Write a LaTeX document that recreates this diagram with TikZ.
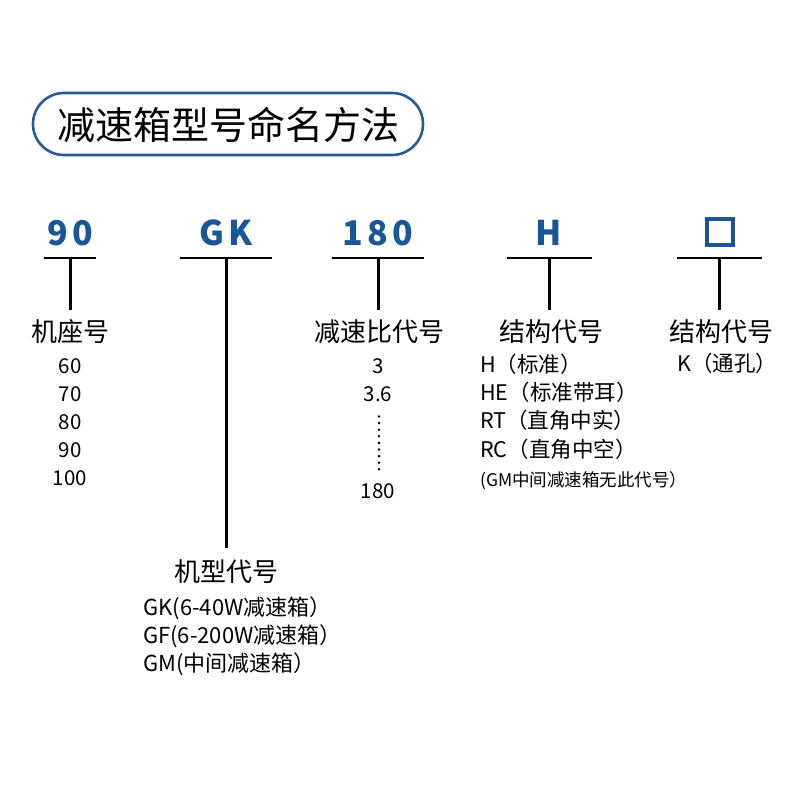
\documentclass[tikz,border=0pt]{standalone}
\usepackage{fontspec}
\setmainfont{Noto Sans CJK SC}
\usetikzlibrary{positioning}
\definecolor{TitleBlue}{RGB}{38,92,148}
\definecolor{CodeBlue}{RGB}{24,86,150}

\tikzset{
	code/.style={anchor=base, inner sep=0pt, text=CodeBlue,
		font=\fontsize{34}{36}\selectfont\bfseries\addfontfeature{LetterSpace=12}},
	head/.style={anchor=base, inner sep=0pt, font=\fontsize{26}{28}\selectfont},
	num/.style={anchor=base, inner sep=0pt, font=\fontsize{20.5}{22}\selectfont},
	item/.style={anchor=base west, inner sep=0pt, font=\fontsize{21.5}{23}\selectfont},
	desc/.style={anchor=base west, inner sep=0pt, font=\fontsize{22}{24}\selectfont},
	note/.style={anchor=base west, inner sep=0pt, font=\fontsize{17.5}{19}\selectfont},
	bar/.style={line width=2.8pt},
	stem/.style={line width=3pt}
}

\begin{document}
\begin{tikzpicture}[x=1pt, y=-1pt]
	\useasboundingbox[fill=white] (0,0) rectangle (800,800);
	
	% 标题
	\node[draw=TitleBlue, line width=2.6pt, rounded corners=31pt,
		minimum width=390pt, minimum height=62pt, inner sep=0pt] (title) at (228,124) {};
	\node[anchor=base, inner sep=0pt, font=\fontsize{38}{40}\selectfont] (titletext) at (228,139) {减速箱型号命名方法};
	
	% 型号各段
	\node[code] (c90) at (70,245) {90};
	\node[code] (cGK) at (226,245) {GK};
	\node[code] (c180) at (378,245) {180};
	\node[code] (cH) at (549,245) {H};
	\node[draw=CodeBlue, line width=3.2pt, minimum size=26pt, inner sep=0pt] (cbox) at (720,232) {};
	
	% 横线与竖线
	\foreach \n/\xl/\xm/\xr/\yb in {90/44/70/96/310, GK/180/226/272/548, 180/332/378/424/310,
		H/507/549.5/592/310, box/677/719.5/762/310} {
		\coordinate (\n-l) at (\xl,258);
		\coordinate (\n-r) at (\xr,258);
		\coordinate (\n-m) at (\xm,258);
		\coordinate (\n-e) at (\xm,\yb);
		\draw[bar] (\n-l) -- (\n-r);
		\draw[stem] (\n-m) -- (\n-e);
	}
	
	% 机座号
	\node[head] (seat) at (70,341) {机座号};
	\foreach \v/\y in {60/373, 70/401, 80/429, 90/457, 100/485}
		\node[num] (seat\v) at (70,\y) {\v};
	
	% 减速比代号
	\node[head] (ratio) at (379,341) {减速比代号};
	\node[num] (r3) at (378,373) {3};
	\node[num] (r36) at (378,401) {3.6};
	\foreach \i in {0,...,8}
		\fill (379,{416.5+\i*6.6}) circle (1.4pt);
	\node[num] (r180) at (378,498) {180};
	
	% 结构代号
	\node[head] (struct) at (551,341) {结构代号};
	\node[item] (sH) at (480,372) {H（标准）};
	\node[item] (sHE) at (480,400) {HE（标准带耳）};
	\node[item] (sRT) at (480,428) {RT（直角中实）};
	\node[item] (sRC) at (480,457) {RC（直角中空）};
	\node[note] (snote) at (480,486) {(GM中间减速箱无此代号）};
	
	\node[head] (hole) at (721,341) {结构代号};
	\node[item] (hK) at (677,371) {K（通孔）};
	
	% 机型代号
	\node[head] (model) at (226,581) {机型代号};
	\node[desc] (mGK) at (143,615) {GK(6-40W减速箱）};
	\node[desc] (mGF) at (143,643) {GF(6-200W减速箱）};
	\node[desc] (mGM) at (143,671) {GM(中间减速箱）};
\end{tikzpicture}
\end{document}
